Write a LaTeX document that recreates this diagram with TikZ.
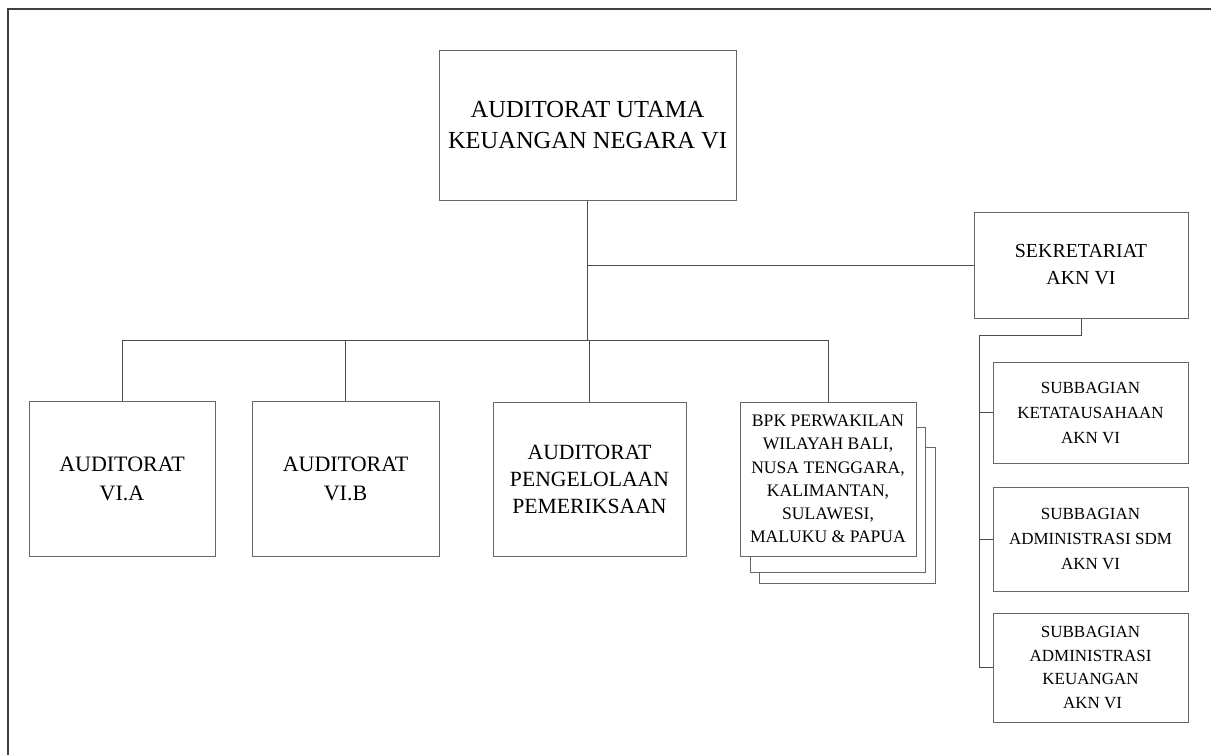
\documentclass[tikz,border=0pt]{standalone}
\usepackage{fontspec}
\setmainfont{Liberation Serif}
\usepackage{tikz}

\tikzset{
  unit/.style={draw=black!60, line width=1pt, fill=white, align=center, inner sep=2pt},
  conn/.style={draw=black!70, line width=1pt},
}
\newcommand{\fsz}[2]{\fontsize{#1}{#2}\selectfont}

\begin{document}
\begin{tikzpicture}[x=1pt,y=-1pt]
        \useasboundingbox (0,0) rectangle (1211,755);
        \draw[line width=2pt, black!75] (8,755) -- (8,9) -- (1211,9);

        \node[unit, minimum width=297pt, minimum height=150pt, font=\fsz{24.5}{31}] (top) at (587.5,125) {AUDITORAT UTAMA\\KEUANGAN NEGARA VI};

        \node[unit, minimum width=186pt, minimum height=155pt, font=\fsz{22}{29}] (via) at (122,478.5) {AUDITORAT\\VI.A};
        \node[unit, minimum width=187pt, minimum height=155pt, font=\fsz{22}{29}] (vib) at (345.5,478.5) {AUDITORAT\\VI.B};
        \node[unit, minimum width=193pt, minimum height=154pt, font=\fsz{21.7}{27}] (pp) at (589.5,479) {AUDITORAT\\PENGELOLAAN\\PEMERIKSAAN};

        \draw[unit] (759,447) rectangle (935,583);
        \draw[unit] (750,427) rectangle (925,572);
        \node[unit, minimum width=176pt, minimum height=154pt, font=\fsz{17.6}{23.3}] (bpk) at (828,479) {BPK PERWAKILAN\\WILAYAH BALI,\\NUSA TENGGARA,\\KALIMANTAN,\\SULAWESI,\\MALUKU \& PAPUA};

        \node[unit, minimum width=214pt, minimum height=106pt, font=\fsz{19.9}{27}] (sek) at (1081,265) {SEKRETARIAT\\AKN VI};

        \node[unit, minimum width=195pt, minimum height=101pt, font=\fsz{17}{25}] (suba) at (1090.5,412.5) {SUBBAGIAN\\KETATAUSAHAAN\\AKN VI};
        \node[unit, minimum width=195pt, minimum height=104pt, font=\fsz{17}{25}] (subb) at (1090.5,539) {SUBBAGIAN\\ADMINISTRASI SDM\\AKN VI};
        \node[unit, minimum width=195pt, minimum height=109pt, font=\fsz{17}{23.5}] (subc) at (1090.5,667.5) {SUBBAGIAN\\ADMINISTRASI\\KEUANGAN\\\ AKN VI};

        \coordinate (busL) at (123,340);
        \coordinate (busR) at (828,340);
        \coordinate (sekbus) at (979,335);

        \draw[conn] (busL) -- (busR);
        \draw[conn] (top.south) -- (top.south |- busL);
        \foreach \n in {via,vib,pp,bpk}
            \draw[conn] (\n.north) -- (\n.north |- busL);
        \draw[conn] (top.south |- sek.west) -- (sek.west);

        \draw[conn] (sek.south) |- (sekbus) -- (sekbus |- subc.west);
        \foreach \n in {suba,subb,subc}
            \draw[conn] (sekbus |- \n.west) -- (\n.west);
    \end{tikzpicture}
\end{document}
